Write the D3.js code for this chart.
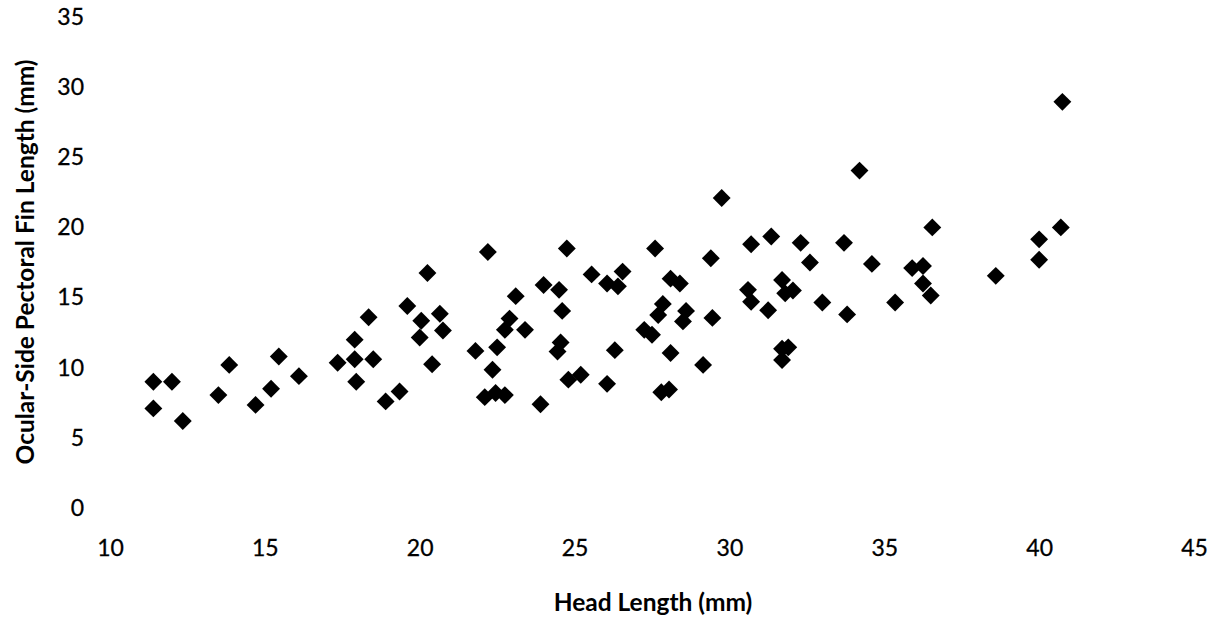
<!DOCTYPE html>
<html>
<head>
<meta charset="utf-8">
<script src="https://cdn.jsdelivr.net/npm/d3@7/dist/d3.min.js"></script>
<style>
  body { margin: 0; background: #fff; }
  svg { display: block; }
  text { font-family: Lato, "Open Sans", sans-serif; fill: #000; }
</style>
</head>
<body>
<div id="chart"></div>
<script>
// head length (mm) vs ocular-side pectoral fin length (mm)
var headLength = [
    11.4, 12.0, 11.4, 12.35, 13.5, 13.85, 14.7, 15.2, 15.45, 16.1,
    17.35, 17.9, 17.9, 17.95, 18.5, 18.35, 18.9, 19.35, 19.6, 20.25,
    20.05, 20.0, 20.65, 20.75, 20.4, 22.2, 23.1, 21.8, 22.5, 22.35,
    22.9, 22.75, 23.4, 22.1, 22.45, 22.75, 23.9, 24.0, 24.5, 24.75,
    24.6, 24.55, 24.45, 24.8, 25.2, 25.55, 26.05, 26.55, 26.4, 26.3,
    26.05, 27.6, 27.25, 27.5, 28.1, 28.4, 27.85, 27.7, 28.6, 28.5,
    28.1, 27.8, 28.05, 29.45, 29.15, 29.4, 29.75, 34.2, 30.7, 31.35,
    32.3, 32.6, 33.7, 34.6, 36.55, 38.6, 30.6, 30.7, 31.25, 31.7,
    31.8, 32.05, 33.0, 33.8, 35.35, 35.9, 36.25, 36.25, 36.5, 31.7,
    31.9, 31.7, 40.75, 40.7, 40.0, 40.0
];
var finLength = [
    9.0, 9.0, 7.1, 6.2, 8.05, 10.2, 7.35, 8.5, 10.8, 9.4,
    10.35, 12.0, 10.6, 9.0, 10.6, 13.6, 7.6, 8.3, 14.4, 16.75,
    13.35, 12.15, 13.85, 12.65, 10.25, 18.25, 15.1, 11.2, 11.45, 9.85,
    13.5, 12.7, 12.7, 7.9, 8.2, 8.05, 7.4, 15.9, 15.55, 18.5,
    14.05, 11.8, 11.15, 9.15, 9.5, 16.65, 16.0, 16.85, 15.8, 11.25,
    8.85, 18.5, 12.7, 12.35, 16.35, 16.0, 14.55, 13.75, 14.05, 13.3,
    11.05, 8.25, 8.45, 13.55, 10.2, 17.8, 22.1, 24.05, 18.8, 19.35,
    18.9, 17.5, 18.9, 17.4, 20.0, 16.55, 15.55, 14.7, 14.1, 16.25,
    15.3, 15.5, 14.65, 13.8, 14.65, 17.1, 17.25, 16.0, 15.15, 11.35,
    11.45, 10.55, 28.95, 20.0, 19.15, 17.7
];
var xTicks = [10, 15, 20, 25, 30, 35, 40, 45];
var yTicks = [0, 5, 10, 15, 20, 25, 30, 35];

var width = 1218;
var height = 621;

var svg = d3.select("#chart").append("svg")
    .attr("width", width)
    .attr("height", height);

svg.append("rect")
    .attr("width", width)
    .attr("height", height)
    .attr("fill", "#fff");

var x = d3.scaleLinear().domain([10, 45]).range([110, 1194]);
var y = d3.scaleLinear().domain([0, 35]).range([508, 17]);

var xAxis = d3.axisBottom(x).tickValues(xTicks).tickSize(0).tickPadding(32);
var yAxis = d3.axisLeft(y).tickValues(yTicks).tickSize(0).tickPadding(26);

var gx = svg.append("g")
    .attr("transform", "translate(0," + y(0) + ")")
    .call(xAxis);
var gy = svg.append("g")
    .attr("transform", "translate(" + x(10) + ",0)")
    .call(yAxis);

[gx, gy].forEach(function (g) {
    g.select(".domain").remove();
    g.selectAll("text")
        .style("font-family", "Lato, sans-serif")
        .style("font-size", "23px")
        .attr("fill", "#000")
        .attr("stroke", "#000")
        .attr("stroke-width", 0.3);
});

var diamond = d3.symbol().type(d3.symbolSquare).size(160);

var points = headLength.map(function (h, i) { return [h, finLength[i]]; });

svg.append("g").selectAll("path")
    .data(points)
    .enter()
    .append("path")
    .attr("d", diamond)
    .attr("fill", "#000")
    .attr("transform", function (d) {
        return "translate(" + x(d[0]) + "," + y(d[1]) + ") rotate(45)";
    });

svg.append("text")
    .attr("x", 653)
    .attr("y", 611)
    .attr("text-anchor", "middle")
    .style("font-size", "24.5px")
    .style("font-weight", "bold")
    .text("Head Length (mm)");

svg.append("text")
    .attr("transform", "translate(34,262) rotate(-90)")
    .attr("text-anchor", "middle")
    .style("font-size", "24.5px")
    .style("font-weight", "bold")
    .text("Ocular-Side Pectoral Fin Length (mm)");
</script>
</body>
</html>
